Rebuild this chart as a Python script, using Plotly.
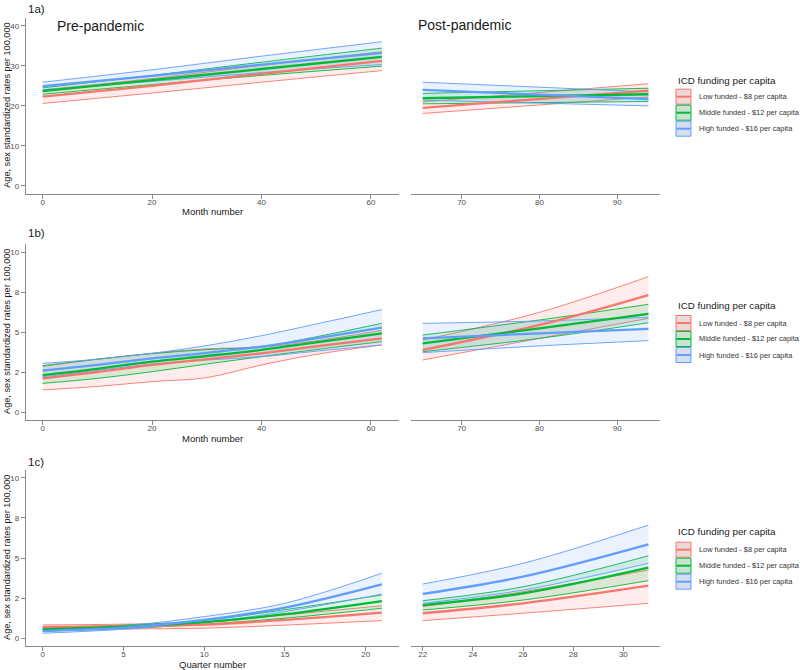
import plotly.graph_objects as go

W, H = 800, 670

group_names = ["Low funded - $8 per capita", "Middle funded - $12 per capita", "High funded - $16 per capita"]
group_colors = ["#F8766D", "#00BA38", "#619CFF"]
group_fills = ["rgba(248,118,109,0.13)", "rgba(0,186,56,0.13)", "rgba(97,156,255,0.13)"]

# ---------------- 1a pre-pandemic (month number) ----------------
a_pre_x = [0, 20, 40, 62]
a_pre_low = [22.3, 25.0, 28.0, 31.2]
a_pre_low_lo = [20.6, 23.2, 25.9, 28.8]
a_pre_low_hi = [24.0, 26.8, 30.1, 33.5]
a_pre_mid = [23.7, 26.4, 29.2, 32.2]
a_pre_mid_lo = [22.9, 25.3, 27.6, 29.9]
a_pre_mid_hi = [24.5, 27.6, 30.9, 34.4]
a_pre_high = [24.9, 27.5, 30.3, 33.2]
a_pre_high_lo = [24.0, 26.1, 28.3, 30.3]
a_pre_high_hi = [25.9, 29.0, 32.4, 36.0]

# ---------------- 1a post-pandemic ----------------
a_post_x = [65, 94]
a_post_low = [19.5, 23.8]
a_post_low_lo = [18.1, 22.2]
a_post_low_hi = [21.0, 25.5]
a_post_mid = [21.9, 22.9]
a_post_mid_lo = [20.5, 21.1]
a_post_mid_hi = [23.1, 24.4]
a_post_high = [24.0, 21.7]
a_post_high_lo = [21.4, 20.0]
a_post_high_hi = [25.9, 23.5]

# ---------------- 1b pre-pandemic ----------------
b_pre_x = [0, 10, 20, 30, 40, 50, 62]
b_pre_low = [2.10, 2.50, 2.94, 3.30, 3.67, 4.10, 4.60]
b_pre_low_lo = [1.38, 1.60, 1.90, 2.15, 2.94, 3.60, 4.19]
b_pre_low_hi = [2.85, 3.30, 3.67, 3.95, 4.05, 4.45, 5.10]
b_pre_mid = [2.31, 2.70, 3.15, 3.50, 3.88, 4.35, 4.92]
b_pre_mid_lo = [1.79, 2.10, 2.52, 3.00, 3.46, 3.90, 4.40]
b_pre_mid_hi = [2.90, 3.30, 3.65, 3.90, 4.10, 4.70, 5.54]
b_pre_high = [2.58, 2.95, 3.35, 3.70, 4.08, 4.60, 5.27]
b_pre_high_lo = [2.20, 2.60, 3.00, 3.25, 3.46, 3.80, 4.19]
b_pre_high_hi = [3.04, 3.30, 3.67, 4.15, 4.77, 5.50, 6.40]

# ---------------- 1b post-pandemic ----------------
b_post_x = [65, 80, 94]
b_post_low = [3.88, 5.44, 7.31]
b_post_low_lo = [3.25, 4.60, 5.85]
b_post_low_hi = [4.50, 6.23, 8.46]
b_post_mid = [4.29, 5.23, 6.13]
b_post_mid_lo = [3.77, 4.60, 5.58]
b_post_mid_hi = [4.81, 5.75, 6.73]
b_post_high = [4.60, 4.92, 5.19]
b_post_high_lo = [3.71, 4.13, 4.46]
b_post_high_hi = [5.54, 5.69, 5.92]

# ---------------- 1c pre-pandemic (quarter number) ----------------
c_pre_x = [0, 5, 10, 15, 21]
c_pre_low = [0.70, 0.76, 0.85, 1.15, 1.60]
c_pre_low_lo = [0.57, 0.58, 0.63, 0.82, 1.10]
c_pre_low_hi = [0.83, 0.88, 1.00, 1.45, 2.03]
c_pre_mid = [0.56, 0.72, 1.00, 1.50, 2.32]
c_pre_mid_lo = [0.45, 0.62, 0.87, 1.25, 1.87]
c_pre_mid_hi = [0.66, 0.82, 1.12, 1.78, 2.70]
c_pre_high = [0.45, 0.66, 1.14, 1.91, 3.36]
c_pre_high_lo = [0.31, 0.56, 0.96, 1.66, 2.75]
c_pre_high_hi = [0.60, 0.78, 1.35, 2.18, 4.05]

# ---------------- 1c post-pandemic ----------------
c_post_x = [22, 26, 31]
c_post_low = [1.56, 2.18, 3.28]
c_post_low_lo = [1.10, 1.56, 2.18]
c_post_low_hi = [1.97, 2.90, 4.25]
c_post_mid = [2.07, 2.80, 4.40]
c_post_mid_lo = [1.76, 2.38, 3.59]
c_post_mid_hi = [2.34, 3.21, 5.14]
c_post_high = [2.76, 3.84, 5.85]
c_post_high_lo = [2.18, 3.00, 4.67]
c_post_high_hi = [3.38, 4.67, 7.05]

# tick labels
a_y_ticks = [0, 10, 20, 30, 40]
bc_y_tickvals = [0, 2.5, 5, 7.5, 10]
bc_y_ticktext = ["0", "2", "5", "8", "10"]
month_pre_ticks = [0, 20, 40, 60]
month_post_ticks = [70, 80, 90]
quarter_pre_ticks = [0, 5, 10, 15, 20]
quarter_post_ticks = [22, 24, 26, 28, 30]

FONT = "Liberation Sans, Arial, sans-serif"


def px_x(p):
    return p / W


def px_y(p):
    return 1 - p / H


panels = [
    dict(n=1, x=a_pre_x, s=[(a_pre_low, a_pre_low_lo, a_pre_low_hi), (a_pre_mid, a_pre_mid_lo, a_pre_mid_hi), (a_pre_high, a_pre_high_lo, a_pre_high_hi)],
         xd=(25.7, 398.8), yd=(17.7, 194.0), xr=[-3.1, 65.1], yr=[-2, 42], xt=month_pre_ticks, left=True, row=0),
    dict(n=2, x=a_post_x, s=[(a_post_low, a_post_low_lo, a_post_low_hi), (a_post_mid, a_post_mid_lo, a_post_mid_hi), (a_post_high, a_post_high_lo, a_post_high_hi)],
         xd=(411.4, 659.7), yd=(17.7, 194.0), xr=[63.55, 95.45], yr=[-2, 42], xt=month_post_ticks, left=False, row=0),
    dict(n=3, x=b_pre_x, s=[(b_pre_low, b_pre_low_lo, b_pre_low_hi), (b_pre_mid, b_pre_mid_lo, b_pre_mid_hi), (b_pre_high, b_pre_high_lo, b_pre_high_hi)],
         xd=(25.7, 398.8), yd=(244.0, 420.0), xr=[-3.1, 65.1], yr=[-0.5, 10.5], xt=month_pre_ticks, left=True, row=1),
    dict(n=4, x=b_post_x, s=[(b_post_low, b_post_low_lo, b_post_low_hi), (b_post_mid, b_post_mid_lo, b_post_mid_hi), (b_post_high, b_post_high_lo, b_post_high_hi)],
         xd=(411.4, 659.7), yd=(244.0, 420.0), xr=[63.55, 95.45], yr=[-0.5, 10.5], xt=month_post_ticks, left=False, row=1),
    dict(n=5, x=c_pre_x, s=[(c_pre_low, c_pre_low_lo, c_pre_low_hi), (c_pre_mid, c_pre_mid_lo, c_pre_mid_hi), (c_pre_high, c_pre_high_lo, c_pre_high_hi)],
         xd=(25.7, 398.8), yd=(469.7, 646.3), xr=[-1.05, 22.05], yr=[-0.5, 10.5], xt=quarter_pre_ticks, left=True, row=2),
    dict(n=6, x=c_post_x, s=[(c_post_low, c_post_low_lo, c_post_low_hi), (c_post_mid, c_post_mid_lo, c_post_mid_hi), (c_post_high, c_post_high_lo, c_post_high_hi)],
         xd=(411.4, 659.7), yd=(469.7, 646.3), xr=[21.55, 31.45], yr=[-0.5, 10.5], xt=quarter_post_ticks, left=False, row=2),
]

fig = go.Figure()
layout = dict(
    width=W, height=H, margin=dict(l=0, r=0, t=0, b=0, autoexpand=False),
    paper_bgcolor="white", plot_bgcolor="white", showlegend=False,
    font=dict(family=FONT, color="#222"),
)

AXCOL = "#8a8a8a"
TICKFONT = dict(family=FONT, size=8, color="#4D4D4D")

for p in panels:
    n = p["n"]
    xa = "x" if n == 1 else f"x{n}"
    ya = "y" if n == 1 else f"y{n}"
    for g, (mean, lo, hi) in enumerate(p["s"]):
        fig.add_trace(go.Scatter(x=p["x"], y=lo, mode="lines", xaxis=xa, yaxis=ya,
                                 line=dict(color=group_colors[g], width=0.9, shape="spline"),
                                 hoverinfo="skip"))
        fig.add_trace(go.Scatter(x=p["x"], y=hi, mode="lines", xaxis=xa, yaxis=ya,
                                 line=dict(color=group_colors[g], width=0.9, shape="spline"),
                                 fill="tonexty", fillcolor=group_fills[g], hoverinfo="skip"))
    for g, (mean, lo, hi) in enumerate(p["s"]):
        fig.add_trace(go.Scatter(x=p["x"], y=mean, mode="lines", xaxis=xa, yaxis=ya, name=group_names[g],
                                 line=dict(color=group_colors[g], width=2.3, shape="spline")))

    xkey = "xaxis" if n == 1 else f"xaxis{n}"
    ykey = "yaxis" if n == 1 else f"yaxis{n}"
    layout[xkey] = dict(
        domain=[px_x(p["xd"][0]), px_x(p["xd"][1])], anchor=ya, range=p["xr"],
        tickvals=p["xt"], showline=True, linecolor=AXCOL, linewidth=1,
        ticks="outside", ticklen=3.5, tickcolor=AXCOL, tickfont=TICKFONT, ticklabelstandoff=-3,
        showgrid=False, zeroline=False, automargin=False,
    )
    if p["row"] == 0:
        yt = dict(tickvals=a_y_ticks)
    else:
        yt = dict(tickvals=bc_y_tickvals, ticktext=bc_y_ticktext)
    layout[ykey] = dict(
        domain=[px_y(p["yd"][1]), px_y(p["yd"][0])], anchor=xa, range=p["yr"],
        showgrid=False, zeroline=False, automargin=False, **yt,
    )
    if p["left"]:
        layout[ykey].update(showline=True, linecolor=AXCOL, linewidth=1, ticks="outside",
                            ticklen=4, tickcolor=AXCOL, tickfont=TICKFONT)
    else:
        layout[ykey].update(showline=False, ticks="", showticklabels=False)

annotations = []
shapes = []


def ann(text, x, y, size, xanchor="left", angle=0, color="#1a1a1a"):
    annotations.append(dict(text=text, x=px_x(x), y=px_y(y), xref="paper", yref="paper",
                            xanchor=xanchor, yanchor="middle", showarrow=False, textangle=angle,
                            font=dict(family=FONT, size=size, color=color)))


# panel tags and headers
ann("1a)", 26, 9, 11.5)
ann("1b)", 26, 233, 11.5)
ann("1c)", 26, 462, 11.5)
ann("Pre-pandemic", 55, 26, 14)
ann("Post-pandemic", 416, 25, 14)

# axis titles
row_titles = ["Month number", "Month number", "Quarter number"]
row_xtitle_y = [211.5, 438, 664.5]
row_ydom = [(17.7, 194.0), (244.0, 420.0), (469.7, 646.3)]
for r in range(3):
    ann(row_titles[r], 212.2, row_xtitle_y[r], 9.5, xanchor="center")
    ann("Age, sex standardized rates per 100,000", 7, (row_ydom[r][0] + row_ydom[r][1]) / 2, 9.2,
        xanchor="center", angle=-90)

# legends
legend_title_y = [80, 305, 531]
legend_key_top = [88.7, 315, 541.7]
for r in range(3):
    ann("ICD funding per capita", 675.5, legend_title_y[r], 9.8)
    for g in range(3):
        y0 = legend_key_top[r] + 16 * g
        y1 = y0 + 16
        shapes.append(dict(type="rect", xref="paper", yref="paper",
                           x0=px_x(676), x1=px_x(691), y0=px_y(y1 - 0.5), y1=px_y(y0 + 0.5),
                           fillcolor="#E8E8E8", line=dict(width=0)))
        shapes.append(dict(type="rect", xref="paper", yref="paper",
                           x0=px_x(676), x1=px_x(691), y0=px_y(y1 - 0.5), y1=px_y(y0 + 0.5),
                           fillcolor=group_fills[g], line=dict(color=group_colors[g], width=1)))
        ym = (y0 + y1) / 2
        shapes.append(dict(type="line", xref="paper", yref="paper",
                           x0=px_x(676.5), x1=px_x(690.5), y0=px_y(ym), y1=px_y(ym),
                           line=dict(color=group_colors[g], width=2)))
        ann(group_names[g], 696.5, ym, 7.4, color="#333")

layout["annotations"] = annotations
layout["shapes"] = shapes
fig.update_layout(**layout)

fig.write_html("out.html", config={"displayModeBar": False},
               post_script="document.body.style.margin='0';document.body.style.overflow='hidden';")
